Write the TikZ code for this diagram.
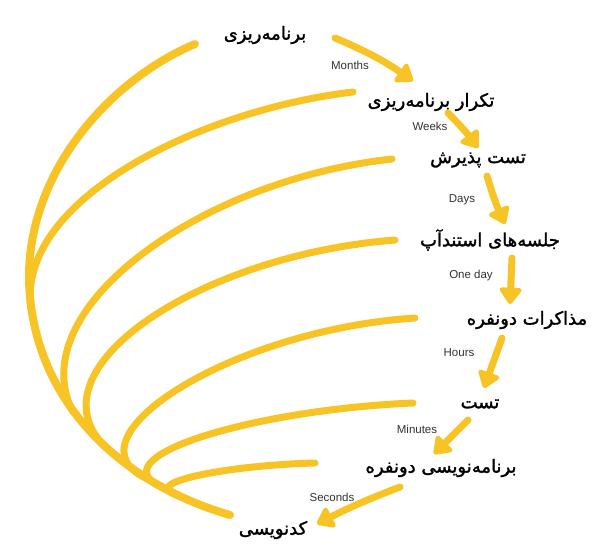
\documentclass[tikz,border=0pt]{standalone}
\usepackage{fontspec}
\usetikzlibrary{arrows.meta}
\newfontfamily\fafont[Script=Arabic, FakeBold=1.6]{DejaVu Sans}
\newfontfamily\labfont{Liberation Sans}
\TeXXeTstate=1
\definecolor{gold}{HTML}{F8C425}
\definecolor{labgray}{HTML}{333333}
\tikzset{
  arc/.style={draw=gold, line width=7pt, line cap=round},
  flow/.style={draw=gold, line width=7pt, line cap=round,
    -{Triangle[round, width=25pt, length=18pt]}},
  fa/.style={font=\fafont\fontsize{18}{20}\selectfont, inner sep=0pt, text=black},
  lab/.style={font=\labfont\fontsize{11.5}{13}\selectfont, inner sep=0pt, text=labgray}
}
\begin{document}
\begin{tikzpicture}[x=1pt,y=-1pt]
\useasboundingbox[fill=white] (0,0) rectangle (600,557);
% arcs
\draw[arc, line width=8pt] (195,44) .. controls (110,80) and (30,170) .. (29,275)
   .. controls (29,390) and (110,480) .. (230,515);
\draw[arc] (353,92) .. controls (200,110) and (16,200) .. (31,308.8);
\draw[arc] (392,159) .. controls (200,180) and (20,310) .. (73.2,412.3);
\draw[arc] (395,240) .. controls (200,255) and (25,370) .. (106.7,448.5);
\draw[arc] (415,318) .. controls (230,330) and (60,440) .. (147.6,478.9);
\draw[arc] (413,403) .. controls (250,410) and (95,458) .. (162.8,487.6);
\draw[arc] (315,463) .. controls (230,465) and (135,483) .. (178.6,495.5);
% text nodes
\node[fa] (n1) at (265,35) {\beginR برنامه‌ریزی\endR};
\node[fa] (n2) at (431,102) {\beginR تکرار برنامه‌ریزی\endR};
\node[fa] (n3) at (478,160) {\beginR تست پذیرش\endR};
\node[fa] (n4) at (490,240) {\beginR جلسه‌های استندآپ\endR};
\node[fa] (n5) at (527,320) {\beginR مذاکرات دونفره\endR};
\node[fa] (n6) at (480,404) {\beginR تست\endR};
\node[fa] (n7) at (441,468) {\beginR برنامه‌نویسی دونفره\endR};
\node[fa] (n8) at (273,530) {\beginR کدنویسی\endR};
% arrow ends
\coordinate (s1) at (335,38);  \coordinate (e1) at (413,81);
\coordinate (s2) at (448,113); \coordinate (e2) at (478,148);
\coordinate (s3) at (487,176); \coordinate (e3) at (505,224);
\coordinate (s4) at (512,258); \coordinate (e4) at (510,304);
\coordinate (s5) at (502,338); \coordinate (e5) at (484,388);
\coordinate (s6) at (468,420); \coordinate (e6) at (434,454);
\coordinate (s7) at (400,487); \coordinate (e7) at (317,524);
\draw[flow] (s1) to[bend left=6] (e1);
\draw[flow] (s2) to[bend left=4] (e2);
\draw[flow] (s3) to[bend right=4] (e3);
\draw[flow] (s4) -- (e4);
\draw[flow] (s5) -- (e5);
\draw[flow] (s6) -- (e6);
\draw[flow] (s7) to[bend right=3] (e7);
% labels
\node[lab] (l1) at (350,65) {Months};
\node[lab] (l2) at (430,126) {Weeks};
\node[lab] (l3) at (462,200) {Days};
\node[lab] (l4) at (471,276) {One day};
\node[lab] (l5) at (459,353) {Hours};
\node[lab] (l6) at (417,429) {Minutes};
\node[lab] (l7) at (332,497) {Seconds};
\end{tikzpicture}
\end{document}
